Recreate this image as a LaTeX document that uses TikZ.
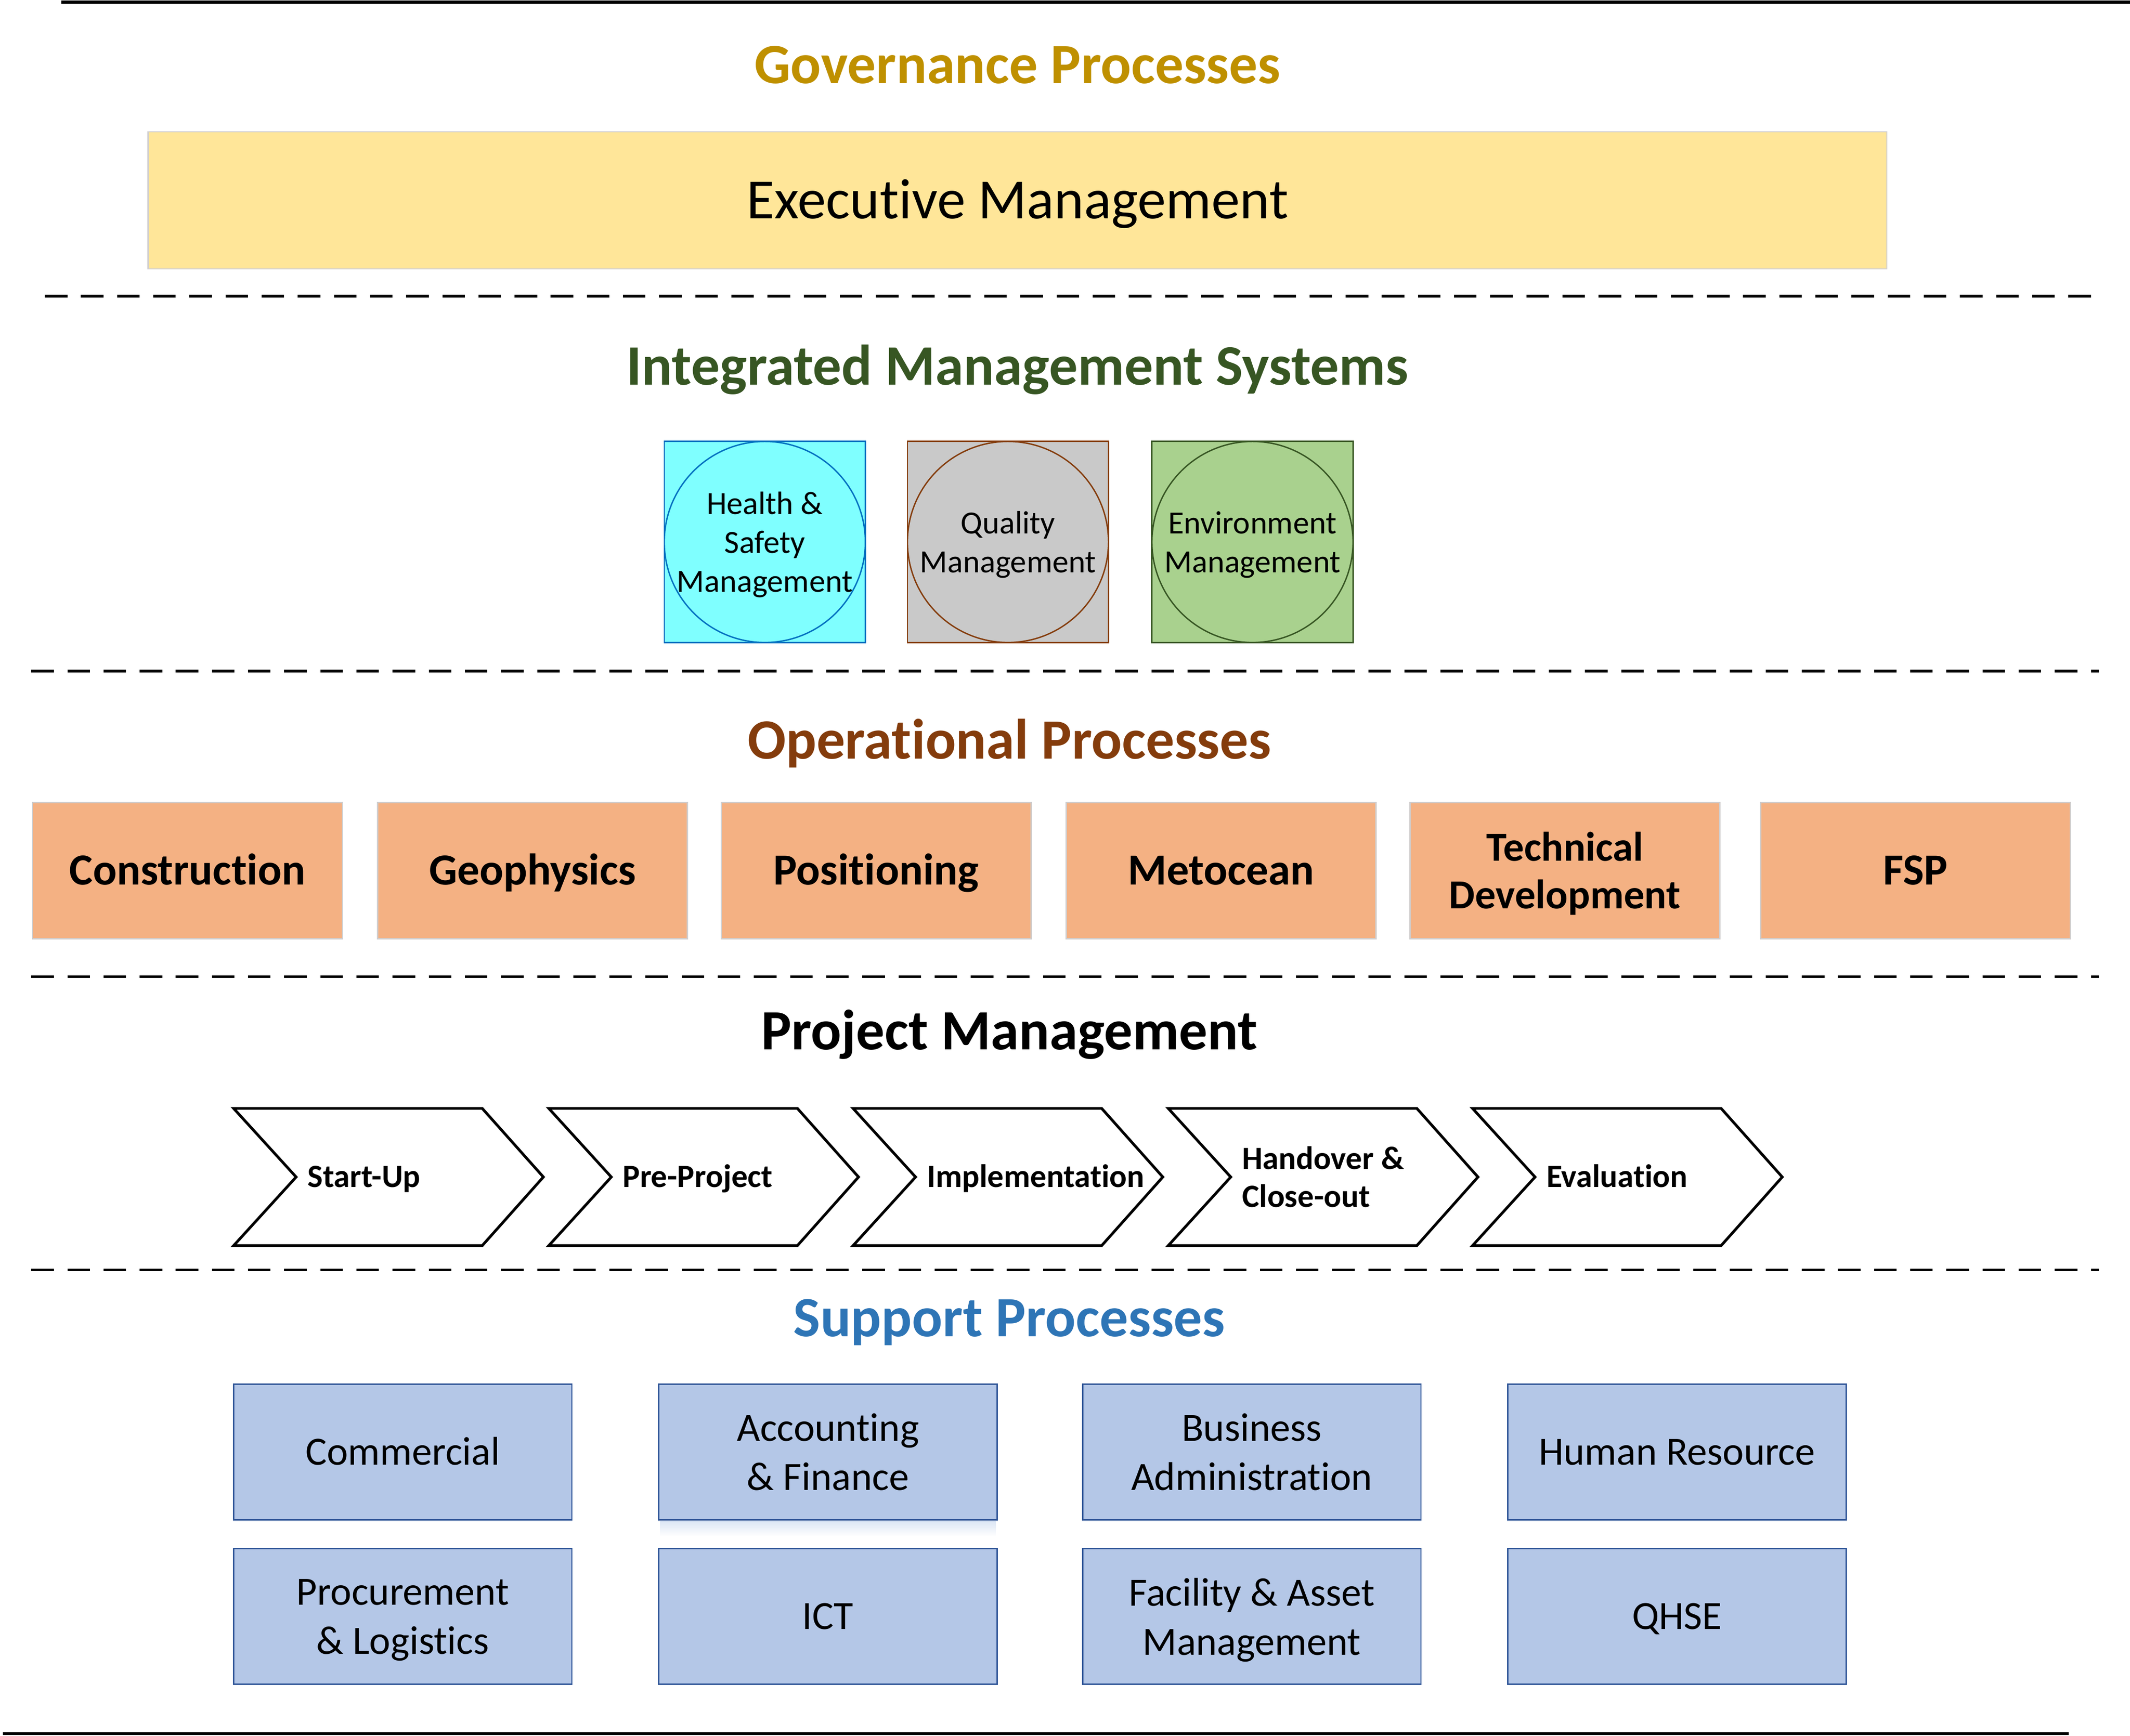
\documentclass[tikz,border=0pt]{standalone}
\usepackage{fontspec}
\setmainfont{Carlito}[Ligatures={NoCommon}]
\definecolor{govc}{HTML}{BF9000}
\definecolor{imsc}{HTML}{375623}
\definecolor{opsc}{HTML}{843C0C}
\definecolor{supc}{HTML}{2E75B6}
\definecolor{execfill}{HTML}{FFE699}
\definecolor{execline}{HTML}{D0CECE}
\definecolor{opsfill}{HTML}{F4B183}
\definecolor{opsline}{HTML}{D0CECE}
\definecolor{hsfill}{HTML}{7FFFFF}
\definecolor{hsline}{HTML}{0070C0}
\definecolor{qfill}{HTML}{C9C9C9}
\definecolor{efill}{HTML}{A9D18E}
\definecolor{supfill}{HTML}{B4C7E7}
\definecolor{supline}{HTML}{2F5597}
\definecolor{shadowc}{HTML}{DCE6F4}
\tikzset{
  heading/.style={font=\fontsize{20.95}{25}\selectfont\bfseries, anchor=base, inner sep=0pt},
  dline/.style={line width=0.95pt, dash pattern=on 8.3pt off 5pt},
  sline/.style={line width=1.1pt},
  execbox/.style={fill=execfill, draw=execline, line width=0.5pt, minimum width=640pt, minimum height=50.5pt, inner sep=0pt,
    text height=13.4pt, text depth=0pt, font=\fontsize{20.95}{25}\selectfont},
  imsbox/.style={minimum width=74pt, minimum height=74pt, inner sep=0pt, line width=0.5pt,
    path picture={\draw[draw=#1, line width=0.5pt] (path picture bounding box.center) circle[radius=37pt];}},
  imstext/.style={inner sep=0pt, align=center, font=\fontsize{11.9}{14.25}\selectfont},
  opsbox/.style={fill=opsfill, draw=opsline, line width=0.5pt, minimum width=114pt, minimum height=50pt, inner sep=0pt, align=center,
    text height=10.5pt, text depth=0pt, font=\fontsize{16.35}{17.5}\selectfont\bfseries},
  opsbox2/.style={fill=opsfill, draw=opsline, line width=0.5pt, minimum width=114pt, minimum height=50pt, inner sep=0pt},
  opstext2/.style={inner sep=0pt, align=center, font=\fontsize{15.2}{17.5}\selectfont\bfseries},
  supbox/.style={fill=supfill, draw=supline, line width=0.5pt, minimum width=124.5pt, minimum height=50pt, inner sep=0pt, align=center, font=\fontsize{14.75}{18}\selectfont},
  supone/.style={supbox, text height=9.45pt, text depth=0pt},
  supempty/.style={fill=supfill, draw=supline, line width=0.5pt, minimum width=124.5pt, minimum height=50pt, inner sep=0pt},
  suptext/.style={inner sep=0pt, align=center, font=\fontsize{14.75}{18}\selectfont},
  chevshape/.style={draw=black, line width=1pt, fill=white, line join=miter},
  chevtext/.style={anchor=west, align=left, inner sep=0pt, font=\fontsize{11.95}{14}\selectfont\bfseries},
  chevone/.style={chevtext, text height=7.7pt, text depth=0pt},
}
\begin{document}
\begin{tikzpicture}[x=0.5pt,y=-0.5pt]
\useasboundingbox (0,0) rectangle (1568,1278);
\fill[white] (0,0) rectangle (1568,1278);

% outer lines
\coordinate (tl) at (45,1.6);
\coordinate (tr) at (1568,1.6);
\coordinate (bl) at (2,1276.3);
\coordinate (br) at (1523,1276.3);
\draw[sline] (tl) -- (tr);
\draw[sline] (bl) -- (br);

% dashed separators
\coordinate (d1l) at (33,218);  \coordinate (d1r) at (1548,218);
\coordinate (d2l) at (23,494);  \coordinate (d2r) at (1545,494);
\coordinate (d3l) at (23,719);  \coordinate (d3r) at (1545,719);
\coordinate (d4l) at (23,935);  \coordinate (d4r) at (1545,935);
\draw[dline] (d1l) -- (d1r);
\draw[dline] (d2l) -- (d2r);
\draw[dline] (d3l) -- (d3r);
\draw[dline] (d4l) -- (d4r);

% Governance
\node[heading, text=govc] (govh) at (749,61.5) {Governance Processes};
\node[execbox] (exec) at (749,147.5) {Executive Management};

% Integrated Management Systems
\node[heading, text=imsc, font=\fontsize{21.05}{25}\selectfont\bfseries] (imsh) at (749,283.4) {Integrated Management Systems};
\node[imsbox=hsline, fill=hsfill, draw=hsline] (hs) at (563,399) {};
\node[imsbox=opsc, fill=qfill, draw=opsc] (qm) at (742,399) {};
\node[imsbox=imsc, fill=efill, draw=imsc] (em) at (922,399) {};
\node[imstext] (hst) at ([yshift=-1pt]hs.center) {Health \&\\Safety\\Management};
\node[imstext] (qmt) at ([yshift=-1pt]qm.center) {Quality\\Management};
\node[imstext] (emt) at ([yshift=-1pt]em.center) {Environment\\Management};

% Operational Processes
\node[heading, text=opsc] (opsh) at (743,558.5) {Operational Processes};
\node[opsbox] (o1) at (138,641) {Construction};
\node[opsbox] (o2) at (392,641) {Geophysics};
\node[opsbox] (o3) at (645,641) {Positioning};
\node[opsbox] (o4) at (899,641) {Metocean};
\node[opsbox2] (o5) at (1152,641) {};
\node[opstext2] (o5t) at ([yshift=-1pt]o5.center) {Technical\\Development};
\node[opsbox] (o6) at (1410,641) {FSP};

% Project Management
\node[heading, text=black] (pmh) at (743,772.7) {Project Management};
\foreach \x/\n in {172/c1, 404/c2, 628/c3, 860/c4, 1084/c5}{
  \draw[chevshape] (\x,816) -- ++(183,0) -- ++(45,50.5) -- ++(-45,50.5) -- ++(-183,0) -- ++(46,-50.5) -- cycle;
  \coordinate (\n) at (\x+54,866.5);
}
\node[chevone] (c1t) at (c1) {Start-Up};
\node[chevone] (c2t) at (c2) {Pre-Project};
\node[chevone] (c3t) at (c3) {Implementation};
\node[chevtext] (c4t) at (c4) {Handover \&\\Close-out};
\node[chevone] (c5t) at (c5) {Evaluation};

% Support Processes
\node[heading, text=supc] (suph) at (743,983.9) {Support Processes};
\shade[top color=shadowc, bottom color=white] (486,1120) rectangle (733,1131);
\node[supone] (s1) at (296.5,1069) {Commercial};
\node[supbox] (s2) at (609.5,1069) {Accounting\\\& Finance};
\node[supbox] (s3) at (921.5,1069) {Business\\Administration};
\node[supone] (s4) at (1234.5,1069) {Human Resource};
\node[supempty] (s5) at (296.5,1190) {};
\node[suptext] (s5t) at ([yshift=-1.3pt]s5.center) {Procurement\\\& Logistics};
\node[supone] (s6) at (609.5,1190) {ICT};
\node[supempty] (s7) at (921.5,1190) {};
\node[suptext] (s7t) at ([yshift=-1.3pt]s7.center) {Facility \& Asset\\Management};
\node[supone] (s8) at (1234.5,1190) {QHSE};
\end{tikzpicture}
\end{document}
